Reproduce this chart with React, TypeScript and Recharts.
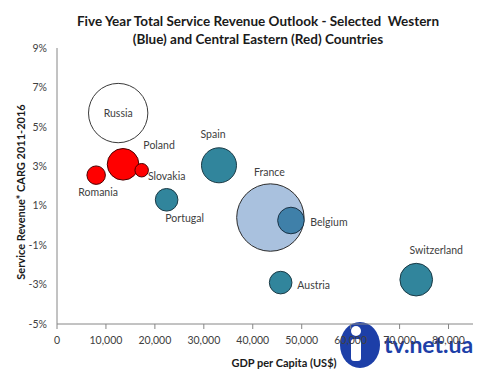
import { ScatterChart, Scatter, XAxis, YAxis, ZAxis } from 'recharts';

// Countries and their values
const countries = ['Russia', 'Poland', 'Slovakia', 'Romania', 'Portugal', 'Spain', 'France', 'Belgium', 'Austria', 'Switzerland'];
const gdpPerCapita = [12500, 13500, 17300, 8000, 22400, 33100, 43600, 47800, 45700, 73400];
const revenueCagr = [5.7, 3.1, 2.8, 2.55, 1.3, 3.05, 0.4, 0.25, -2.9, -2.75];
const serviceRevenue = [31, 8.8, 1.6, 3.0, 4.5, 10.8, 40, 6.2, 4.5, 9.4];
const groupOf = ['russia', 'cee', 'cee', 'cee', 'west', 'west', 'france', 'belgium', 'west', 'west'];

const xTicks = [0, 10000, 20000, 30000, 40000, 50000, 60000, 70000, 80000];
const yTicks = [-5, -3, -1, 1, 3, 5, 7, 9];

const groups = ['russia', 'cee', 'west', 'france', 'belgium'];
const groupStyle: Record<string, { fill: string; stroke: string }> = {
  russia: { fill: '#ffffff', stroke: '#3a3a3a' },
  cee: { fill: '#ff0000', stroke: '#4a0000' },
  west: { fill: '#31859c', stroke: '#1c3b46' },
  france: { fill: '#a9c1de', stroke: '#2b2b2b' },
  belgium: { fill: '#3f80a9', stroke: '#1c3346' },
};

// where each label sits relative to its bubble centre
const labelOffset: Record<string, [number, number]> = {
  Russia: [0, 0],
  Poland: [36, -19],
  Slovakia: [25, 6],
  Romania: [2, 17],
  Portugal: [18, 18],
  Spain: [-6, -31],
  France: [-1, -46],
  Belgium: [38, 1],
  Austria: [33, 2],
  Switzerland: [20, -30],
};

const points = countries.map((name, i) => ({
  name,
  gdp: gdpPerCapita[i],
  cagr: revenueCagr[i],
  rev: serviceRevenue[i],
  group: groupOf[i],
}));

const font = 'Lato, "Open Sans", sans-serif';

const Bubble = (props: any) => {
  const { cx, cy, size, width, fill, stroke } = props;
  const r = size ? Math.sqrt(size / Math.PI) : width / 2;
  return <circle cx={cx} cy={cy} r={r} fill={fill} stroke={stroke} strokeWidth={1} />;
};

const BubbleLabel = (props: any) => {
  const { cx, cy, payload } = props;
  const [dx, dy] = labelOffset[payload.name] || [0, 0];
  return (
    <text x={cx + dx} y={cy + dy} textAnchor="middle" dominantBaseline="central"
      fontSize={10.5} fontFamily={font} fill="#404040">
      {payload.name}
    </text>
  );
};

export default function App() {
  return (
    <div style={{ position: 'absolute', left: 0, top: 0, width: 500, height: 374, background: '#fff' }}>
      <ScatterChart width={500} height={374} margin={{ top: 48, right: 27, bottom: 0, left: 0 }}>
        <XAxis type="number" dataKey="gdp" domain={[0, 85000]} ticks={xTicks} allowDataOverflow
          tickFormatter={(v: number) => v.toLocaleString('en-US')}
          height={50} tickSize={5} tickMargin={8} stroke="#868686"
          tick={{ fill: '#404040', fontSize: 10.5, fontFamily: font }} />
        <YAxis type="number" dataKey="cagr" domain={[-5, 9]} ticks={yTicks} allowDataOverflow
          tickFormatter={(v: number) => `${v}%`}
          width={57} tickLine={false} tickSize={6} tickMargin={4} stroke="#868686"
          tick={{ fill: '#404040', fontSize: 10.5, fontFamily: font }} />
        <ZAxis type="number" dataKey="rev" domain={[0, 40]} range={[0, Math.PI * 33.7 * 33.7]} />
        {groups.map((g) => (
          <Scatter key={g} name={g} data={points.filter((p) => p.group === g)}
            fill={groupStyle[g].fill} stroke={groupStyle[g].stroke}
            shape={Bubble} isAnimationActive={false} />
        ))}
        <Scatter name="labels" data={points} shape={BubbleLabel} isAnimationActive={false} />
        <text x={258} y={21} textAnchor="middle" dominantBaseline="central" fontSize={13.5}
          fontWeight="bold" fontFamily={font} fill="#1a1a1a" style={{ whiteSpace: 'pre' }}>
          {'Five Year Total Service Revenue Outlook - Selected  Western'}
        </text>
        <text x={258} y={39} textAnchor="middle" dominantBaseline="central" fontSize={13.5}
          fontWeight="bold" fontFamily={font} fill="#1a1a1a">
          (Blue) and Central Eastern (Red) Countries
        </text>
        <text x={20} y={192} transform="rotate(-90 20 192)" textAnchor="middle" dominantBaseline="central"
          fontSize={11} fontWeight="bold" fontFamily={font} fill="#1a1a1a">
          Service Revenue* CARG 2011-2016
        </text>
        <text x={284} y={362} textAnchor="middle" dominantBaseline="central"
          fontSize={11} fontWeight="bold" fontFamily={font} fill="#1a1a1a">
          GDP per Capita (US$)
        </text>
        <g>
          <ellipse cx={360} cy={345} rx={20} ry={23} fill="#1d3fa8" />
          <circle cx={356} cy={331} r={5} fill="#fff" />
          <rect x={351} y={339} width={10} height={22} rx={3} fill="#fff" />
          <text x={384} y={353} fontSize={23} fontFamily={font} fill="#1d3fa8" fontWeight="bold">
            tv.net.ua
          </text>
        </g>
      </ScatterChart>
    </div>
  );
}
